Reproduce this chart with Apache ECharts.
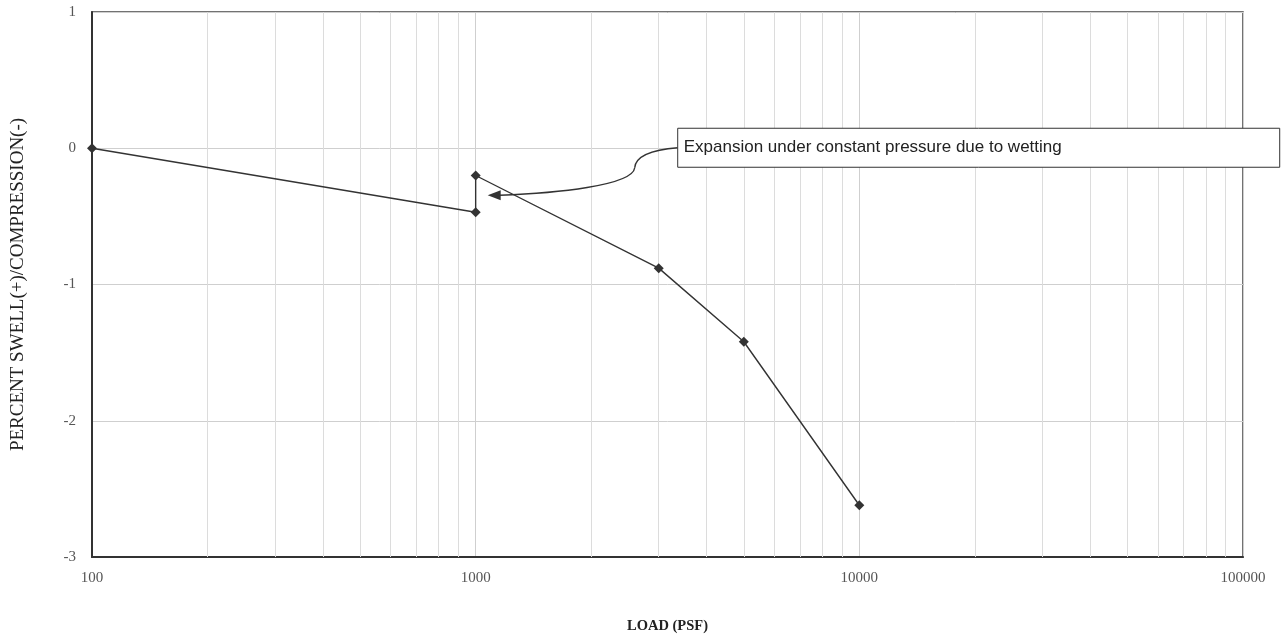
<!DOCTYPE html>
<html>
<head>
<meta charset="utf-8">
<script src="https://cdn.jsdelivr.net/npm/echarts@6/dist/echarts.min.js"></script>
<style>html,body{margin:0;padding:0;background:#fff}#c{width:1281px;height:639px}</style>
</head>
<body>
<div id="c"></div>
<script>
// Data
const loads = [100, 1000, 1000, 3000, 5000, 10000];
const swell = [0, -0.47, -0.2, -0.88, -1.42, -2.62];
const minorGridLoads = [200,300,400,500,600,700,800,900,2000,3000,4000,5000,6000,7000,8000,9000,20000,30000,40000,50000,60000,70000,80000,90000];
const xTitle = 'LOAD (PSF)';
const yTitle = 'PERCENT SWELL(+)/COMPRESSION(-)';
const noteText = 'Expansion under constant pressure due to wetting';
const arrowTip = [1075, -0.345];

const chart = echarts.init(document.getElementById('c'), null, {renderer: 'canvas'});
const serif = '"Liberation Serif", "DejaVu Serif", serif';

const option = {
  animation: false,
  backgroundColor: '#fff',
  grid: { left: 92, right: 38, top: 12, bottom: 82, containLabel: false, outerBoundsMode: 'none',
          show: true, borderColor: '#444', borderWidth: 1.5 },
  xAxis: {
    type: 'log', logBase: 10, min: 100, max: 100000,
    name: xTitle, nameLocation: 'middle', nameGap: 62,
    nameTextStyle: { fontFamily: serif, fontWeight: 'bold', fontSize: 14.5, color: '#222' },
    axisLine: { show: true, onZero: false, lineStyle: { color: '#333', width: 2 } },
    axisTick: { show: false },
    axisLabel: { fontFamily: serif, fontSize: 15, color: '#555', margin: 14, formatter: v => String(v) },
    splitLine: { show: true, lineStyle: { color: '#cfcfcf', width: 1 } },
    minorTick: { show: false }, minorSplitLine: { show: false }
  },
  yAxis: {
    type: 'value', min: -3, max: 1, interval: 1,
    name: yTitle, nameLocation: 'middle', nameGap: 64,
    nameTextStyle: { fontFamily: serif, fontWeight: 'normal', fontSize: 19, color: '#222' },
    axisLine: { show: true, onZero: false, lineStyle: { color: '#333', width: 2 } },
    axisTick: { show: false },
    axisLabel: { fontFamily: serif, fontSize: 15, color: '#555', margin: 16 },
    splitLine: { show: true, lineStyle: { color: '#cfcfcf', width: 1 } }
  },
  series: [
    {
      type: 'line', data: [], silent: true,
      markLine: {
        silent: true, symbol: ['none', 'none'], label: { show: false },
        lineStyle: { color: '#dcdcdc', width: 1, type: 'solid' },
        data: minorGridLoads.map(v => ({ xAxis: v }))
      },
      z: 1
    },
    {
      type: 'line',
      data: loads.map((x, i) => [x, swell[i]]),
      symbol: 'diamond', symbolSize: 10,
      itemStyle: { color: '#333' },
      lineStyle: { color: '#333', width: 1.4 },
      z: 5
    }
  ]
};
chart.setOption(option);

const tip = chart.convertToPixel({ xAxisIndex: 0, yAxisIndex: 0 }, arrowTip);
const tx = tip[0], ty = tip[1];
// Annotation box geometry relative to the arrow tip
const bx = tx + 190, by = ty - 67, bw = 602, bh = 39;
const sx = bx, sy = by + bh / 2;
const midX = sx - 43, midY = sy + 20;

chart.setOption({
  graphic: [
    { type: 'bezierCurve', shape: { x1: sx, y1: sy, cpx1: sx - 25, cpy1: sy + 2, cpx2: sx - 42, cpy2: sy + 8, x2: midX, y2: midY },
      style: { fill: null, stroke: '#333', lineWidth: 1.4 }, z: 10 },
    { type: 'bezierCurve', shape: { x1: midX, y1: midY, cpx1: midX - 2, cpy1: midY + 18, cpx2: midX - 80, cpy2: ty - 2, x2: tx + 12, y2: ty },
      style: { fill: null, stroke: '#333', lineWidth: 1.4 }, z: 10 },
    { type: 'polygon', shape: { points: [[tx, ty], [tx + 13, ty - 5], [tx + 13, ty + 5]] }, style: { fill: '#333' }, z: 10 },
    { type: 'rect', shape: { x: bx, y: by, width: bw, height: bh }, style: { fill: '#fff', stroke: '#333', lineWidth: 1 }, z: 11 },
    { type: 'text', x: bx + 6, y: by + bh / 2, style: { text: noteText, font: '17px "Liberation Sans", Arial, sans-serif', fill: '#222', verticalAlign: 'middle' }, z: 12 }
  ]
});
</script>
</body>
</html>
